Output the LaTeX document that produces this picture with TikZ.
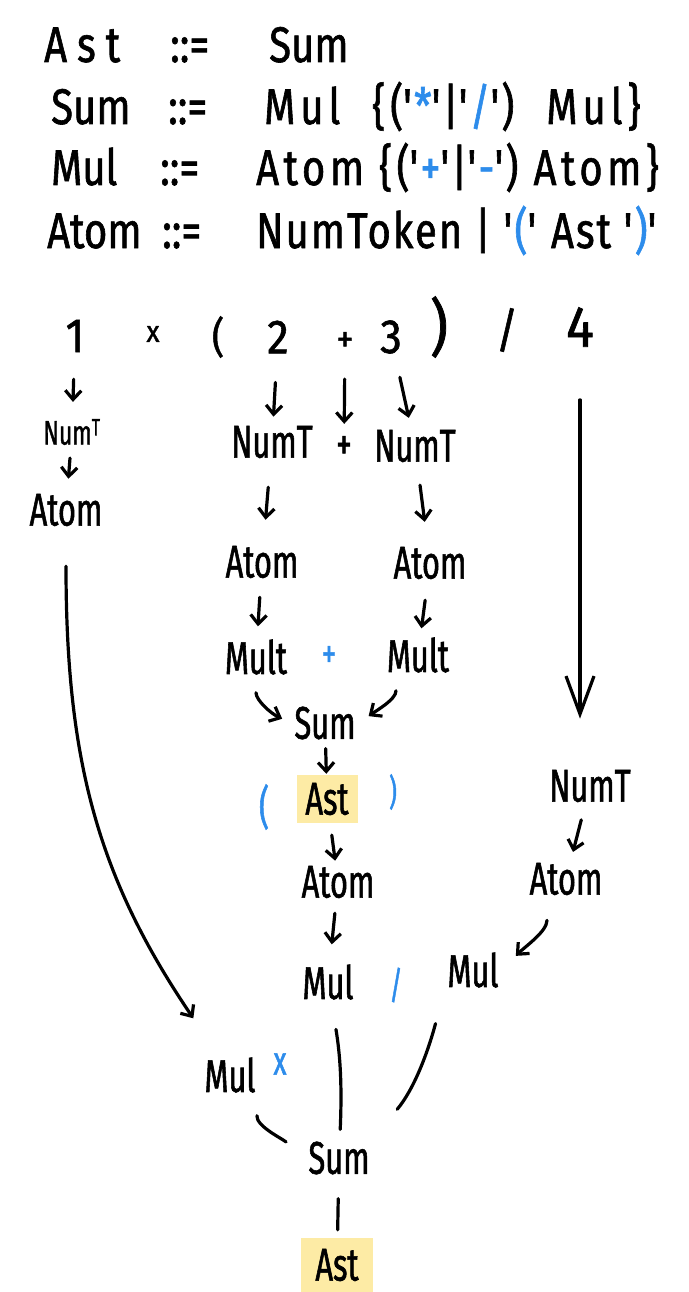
\documentclass[tikz,border=0pt]{standalone}
\usepackage{fontspec}
\setmainfont{Fira Sans}[FakeStretch=0.67, FakeBold=1.2]
\newfontfamily\gramfont{Fira Sans}[FakeStretch=0.8, FakeBold=1.2]
\newfontfamily\tokfont{Fira Sans}[FakeStretch=0.9, FakeBold=1.2]
\usetikzlibrary{arrows.meta, positioning}
\definecolor{opblue}{HTML}{2D8CEB}
\definecolor{hlyellow}{HTML}{FDEBA5}
\newcommand{\sq}{\textquotesingle}
\newcommand{\bl}[1]{\textcolor{opblue}{#1}}

\begin{document}
\begin{tikzpicture}[x=1pt, y=-1pt,
    every node/.style={font=\fontsize{46}{52}\selectfont, inner sep=3pt},
    rule/.style={font=\gramfont\fontsize{50}{60}\selectfont, anchor=base west, inner sep=0pt},
    tok/.style={font=\tokfont\fontsize{48}{56}\selectfont},
    small/.style={font=\fontsize{34}{40}\selectfont},
    op/.style={text=opblue},
    hl/.style={fill=hlyellow, minimum width=61pt, minimum height=48pt},
    arr/.style={-{Straight Barb[length=9pt, width=16pt]}, line width=3.2pt, line cap=round},
    bigarr/.style={-{Straight Barb[length=38pt, width=28pt]}, line width=3.2pt, line cap=round},
    lnk/.style={line width=3.2pt, line cap=round}
]
\useasboundingbox (0,0) rectangle (688,1292);
% Grammar
\node[rule] (g1l) at (44,62) {\addfontfeature{LetterSpace=20}Ast};
\node[rule] (g1e) at (170,62) {::=};
\node[rule] (g1r) at (269,62) {Sum};
\node[rule] (g2l) at (51,124) {Sum};
\node[rule] (g2e) at (168,124) {::=};
\node[rule] (g2r) at (264,124) {\addfontfeature{LetterSpace=10}Mul\hspace{32pt}\{(\sq\bl{*}\sq|\sq\bl{/}\sq)\hspace{32pt}Mul\}};
\node[rule] (g3l) at (51,185) {Mul};
\node[rule] (g3e) at (160,185) {::=};
\node[rule] (g3r) at (256,185) {\addfontfeature{LetterSpace=9}Atom \{(\sq\bl{+}\sq|\sq\bl{-}\sq) Atom\}};
\node[rule] (g4l) at (47,248) {Atom};
\node[rule] (g4e) at (162,248) {::=};
\node[rule] (g4r) at (256,248) {\addfontfeature{LetterSpace=4}NumToken | \sq\bl{(}\sq\ Ast \sq\bl{)}\sq};
% Input tokens
\node[tok] (one) at (75,336) {1};
\node[tok, font=\tokfont\fontsize{30}{34}\selectfont] (times) at (153,334) {x};
\node[tok, font=\tokfont\fontsize{42}{46}\selectfont] (lpar) at (218,337) {(};
\node[tok] (two) at (278,337) {2};
\node[tok, font=\tokfont\fontsize{38}{42}\selectfont] (plus) at (345,342) {+};
\node[tok] (three) at (391,337) {3};
\node[tok, font=\tokfont\fontsize{62}{70}\selectfont] (rpar) at (439,327) {)};
\node[tok] (slash) at (507,330) {/};
\node[tok, font=\tokfont\fontsize{58}{64}\selectfont] (four) at (580,327) {4};
% Left column
\node[small] (numtA) at (72,432) {Num\textsuperscript{T}};
\node (atomA) at (66,510) {Atom};
\draw[arr, shorten <=24pt, shorten >=14pt] (one) -- (numtA);
\draw[arr, shorten <=10pt, shorten >=12pt] (numtA) -- (atomA);
% Middle: 2 + 3
\node (numtB) at (272,442) {NumT};
\node[font=\fontsize{46}{50}\selectfont] (plusB) at (344,448) {+};
\node (numtC) at (415,446) {NumT};
\draw[arr, shorten <=26pt, shorten >=6pt] (two) -- (numtB);
\draw[arr, shorten <=24pt, shorten >=9pt] (plus) -- (plusB);
\draw[arr, shorten <=21pt, shorten >=9pt] (three) -- (numtC);
\node (atomB) at (262,562) {Atom};
\node (atomC) at (430,563) {Atom};
\draw[arr, shorten <=26pt, shorten >=23pt] (numtB) -- (atomB);
\draw[arr, shorten <=20pt, shorten >=22pt] (numtC) -- (atomC);
\node (multB) at (256,657) {Mult};
\node[op, font=\fontsize{42}{46}\selectfont] (opplus) at (329,657) {+};
\node (multC) at (418,655) {Mult};
\draw[arr, shorten <=16pt, shorten >=10pt] (atomB) -- (multB);
\draw[arr, shorten <=18pt, shorten >=6pt] (atomC) -- (multC);
\node (sumB) at (325,723) {Sum};
\draw[arr, shorten <=15pt, shorten >=10pt] (multB.south) to[out=-90, in=155] (sumB.west);
\draw[arr, shorten <=15pt, shorten >=12pt] ([xshift=-22pt]multC.south) to[out=-90, in=35] (sumB.east);
\node[op] (lparB) at (264,807) {(};
\node[hl] (astB) at (327,799) {Ast};
\node[op, font=\fontsize{36}{40}\selectfont] (rparB) at (393,792) {)};
\draw[arr, shorten <=6pt, shorten >=1pt] (sumB) -- (astB);
\node (atomD) at (338,882) {Atom};
\node (mulD) at (328,982) {Mul};
\node[op, font=\fontsize{38}{42}\selectfont] (slashD) at (396,985) {/};
\draw[arr, shorten <=12pt, shorten >=2pt] (astB) -- (atomD);
\draw[arr, shorten <=12pt, shorten >=17pt] (atomD) -- (mulD);
% Right column
\node (numtE) at (590,786) {NumT};
\node (atomE) at (566,879) {Atom};
\node (mulE) at (473,970) {Mul};
\draw[bigarr, shorten <=50pt, shorten >=48pt] (four) -- (four |- numtE.north);
\draw[arr, shorten <=15pt, shorten >=8pt] (numtE) -- (atomE);
\draw[arr, shorten <=22pt, shorten >=20pt] ([xshift=-19pt]atomE.south) to[out=-90, in=45] (mulE.east);
% Bottom
\node (mulF) at (230,1075) {Mul};
\node[op, font=\fontsize{40}{44}\selectfont] (timesF) at (280,1064) {x};
\node (sumF) at (339,1158) {Sum};
\node[hl, minimum width=72pt, minimum height=54pt] (astF) at (337,1265) {Ast};
\draw[arr] ([yshift=-37pt]atomA.south) .. controls +(0,195) and +(-95,-140) .. ([xshift=-8pt, yshift=36pt]mulF.north west);
\draw[lnk, shorten <=20pt, shorten >=25pt] (mulF.south east) to[out=-95, in=140] (sumF.west);
\draw[lnk, shorten <=27pt, shorten >=9pt] (mulD) to[bend left=6] (sumF);
\draw[lnk, shorten <=34pt, shorten >=38pt] (mulE.south west) to[out=-105, in=50] (sumF.north east);
\draw[lnk, shorten <=21pt, shorten >=8pt] (sumF) -- (astF);
\end{tikzpicture}
\end{document}
